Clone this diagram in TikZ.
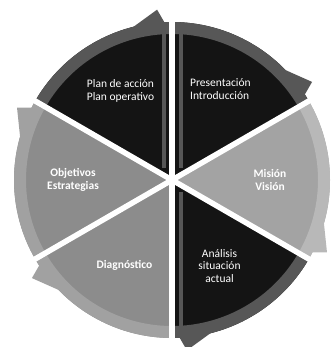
\documentclass[tikz,border=0pt]{standalone}
\usepackage{fontspec}
\setmainfont{Carlito}

\definecolor{secdark}{gray}{0.08}
\definecolor{rimdark}{gray}{0.34}
\definecolor{secgray}{gray}{0.55}
\definecolor{rimgray}{gray}{0.63}
\definecolor{seclight}{gray}{0.64}
\definecolor{rimlight}{gray}{0.72}

\tikzset{
  steplabel/.style={text=white, align=center, inner sep=1pt, font=\fontsize{11.5}{12.5}\selectfont},
  steplabelbold/.style={steplabel, font=\fontsize{11.5}{12.5}\selectfont\bfseries},
  gapline/.style={white, line width=5.5pt},
}

\begin{document}
\begin{tikzpicture}[x=1pt, y=1pt]
        \useasboundingbox (0,0) rectangle (330,347);
        \begin{scope}[shift={(172,167)}]

        % Draw the six sectors with their outer rims
        \foreach \a/\body/\rim in {90/secdark/rimdark, 30/secdark/rimdark, -30/seclight/rimlight,
                                  -90/secdark/rimdark, 210/secgray/rimgray, 150/secgray/rimgray}{
          \fill[\body] (0,0) -- (\a:158) arc[start angle=\a, end angle=\a+60, radius=158] -- cycle;
          \fill[\rim] (\a:158) arc[start angle=\a, end angle=\a+60, radius=158]
            -- (\a+60:146) arc[start angle=\a+60, end angle=\a, radius=146] -- cycle;
        }

        % Lighter strips beside the vertical gap on the dark sectors
        \draw[rimdark, line width=4pt] (-8.5,12) -- (-8.5,146);
        \draw[rimdark, line width=4pt] (8.5,12) -- (8.5,146);
        \draw[rimdark, line width=4pt] (8.5,-12) -- (8.5,-146);

        % White gaps between the sectors
        \foreach \a in {30,90,...,330}
          \draw[gapline] (0,0) -- (\a:166);

        % Arrow fins at the clockwise end of every rim
        \foreach \a/\rim in {90/rimdark, 30/rimdark, -30/rimlight, -90/rimdark, 210/rimgray, 150/rimgray}
          \fill[\rim] (\a+15:157) -- (\a+5:171) -- (\a+1.2:150) -- (\a+15:150) -- cycle;

        % Labels in white
        \node[steplabel] (plan) at (120:103) {Plan de acción\\Plan operativo};
        \node[steplabel, align=left] (presentacion) at (62:103) {Presentación\\Introducción};
        \node[steplabelbold] (mision) at (0:98) {Misión\\Visión};
        \node[steplabel] (analisis) at (-61:98) {Análisis\\situación\\actual};
        \node[steplabelbold] (diagnostico) at (-119:98) {Diagnóstico};
        \node[steplabelbold] (objetivos) at (180:99) {Objetivos\\Estrategias};

        \end{scope}
      \end{tikzpicture}
\end{document}
